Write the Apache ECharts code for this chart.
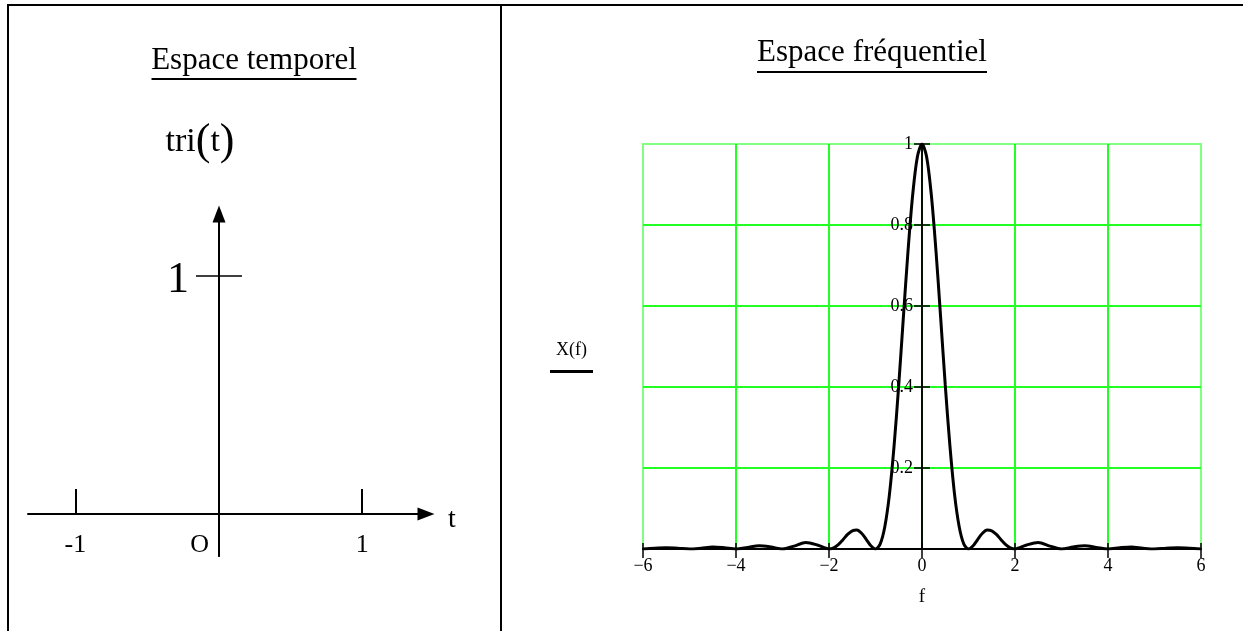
<!DOCTYPE html>
<html>
<head>
<meta charset="utf-8">
<script src="https://cdn.jsdelivr.net/npm/echarts@6/dist/echarts.min.js"></script>
<style>
  html, body { margin: 0; padding: 0; background: #fff; }
  #main { width: 1243px; height: 631px; }
</style>
</head>
<body>
<div id="main"></div>
<script>
// spectre X(f)
const freqs = [
  -6, -5.75, -5.5, -5.25, -5, -4.75, -4.5, -4.25, -4, -3.75, -3.5, -3.25, -3, -2.75, -2.5, -2.25,
  -2, -1.9, -1.8, -1.7, -1.6, -1.5, -1.4, -1.3, -1.2, -1.1, -1, -0.9, -0.8, -0.7, -0.6, -0.5, -0.4, -0.3, -0.2, -0.1,
  0, 0.1, 0.2, 0.3, 0.4, 0.5, 0.6, 0.7, 0.8, 0.9, 1, 1.1, 1.2, 1.3, 1.4, 1.5, 1.6, 1.7, 1.8, 1.9, 2,
  2.25, 2.5, 2.75, 3, 3.25, 3.5, 3.75, 4, 4.25, 4.5, 4.75, 5, 5.25, 5.5, 5.75, 6
];
const amps = [
  0, 0.002, 0.003, 0.002, 0, 0.002, 0.005, 0.003, 0, 0.004, 0.008, 0.005, 0, 0.007, 0.016, 0.010,
  0, 0.003, 0.011, 0.023, 0.036, 0.045, 0.047, 0.039, 0.024, 0.008, 0, 0.012, 0.055, 0.135, 0.255, 0.405, 0.573, 0.737, 0.875, 0.968,
  1, 0.968, 0.875, 0.737, 0.573, 0.405, 0.255, 0.135, 0.055, 0.012, 0, 0.008, 0.024, 0.039, 0.047, 0.045, 0.036, 0.023, 0.011, 0.003, 0,
  0.010, 0.016, 0.007, 0, 0.005, 0.008, 0.004, 0, 0.003, 0.005, 0.002, 0, 0.002, 0.003, 0.002, 0
];

// espace temporel : graduations
const timeTicks = [-1, 1];
const timeLabelValues = [-1, 0, 1];
const timeLabels = ['-1', 'O', '1'];
const triTicks = [1];

const serif = '"Liberation Serif", "Times New Roman", serif';
const green = '#22ff22';

const chart = echarts.init(document.getElementById('main'));

const freqData = freqs.map(function (f, i) { return [f, amps[i]]; });

function minusFmt(v) {
  return v < 0 ? '\u2212' + (-v) : String(v);
}

var option = {
  animation: false,
  backgroundColor: '#fff',
  title: [{
    text: '{t|Espace temporel}\n{u|}',
    left: 254,
    top: 44,
    textAlign: 'center',
    padding: 0,
    textStyle: {
      rich: {
        t: { fontSize: 31, fontFamily: serif, fontWeight: 'normal', color: '#000', lineHeight: 34 },
        u: { width: 205, height: 2, backgroundColor: '#000' }
      }
    }
  }, {
    text: '{t|Espace fréquentiel}\n{u|}',
    left: 872,
    top: 35,
    textAlign: 'center',
    padding: 0,
    textStyle: {
      rich: {
        t: { fontSize: 31, fontFamily: serif, fontWeight: 'normal', color: '#000', lineHeight: 36 },
        u: { width: 230, height: 2, backgroundColor: '#000' }
      }
    }
  }],
  grid: [{
    left: 28, right: 817, top: 214, bottom: 75,
    outerBoundsMode: 'none'
  }, {
    left: 643, right: 42, top: 144, bottom: 82,
    outerBoundsMode: 'none',
    show: true,
    borderColor: '#80ff80',
    borderWidth: 2
  }],
  xAxis: [{
    gridIndex: 0,
    type: 'value',
    min: -1.33,
    max: 1.445,
    position: 'bottom',
    offset: -42,
    axisLine: {
      onZero: false,
      lineStyle: { color: '#000', width: 2 },
      symbol: ['none', 'triangle'],
      symbolSize: [13, 17]
    },
    axisTick: {
      customValues: timeTicks,
      inside: true,
      length: 25,
      lineStyle: { color: '#000', width: 2 }
    },
    axisLabel: {
      customValues: timeLabelValues,
      margin: 18,
      color: '#000',
      fontSize: 26,
      fontFamily: serif,
      formatter: function (v) {
        const lab = timeLabels[timeLabelValues.indexOf(v)];
        return v === 0 ? '{o|' + lab + '}' : lab;
      },
      rich: {
        o: { fontSize: 26, fontFamily: serif, color: '#000', padding: [0, 38, 0, 0] }
      }
    },
    splitLine: { show: false },
    name: 't',
    nameLocation: 'end',
    nameGap: 22,
    nameTextStyle: { fontSize: 28, fontFamily: serif, color: '#000', verticalAlign: 'top', lineHeight: 12 }
  }, {
    gridIndex: 1,
    type: 'value',
    min: -6,
    max: 6,
    interval: 2,
    position: 'bottom',
    axisLine: { onZero: false, lineStyle: { color: '#000', width: 2 } },
    axisTick: { length: 9, lineStyle: { color: '#000', width: 1.5 } },
    axisLabel: {
      margin: 8,
      color: '#000',
      fontSize: 18,
      fontFamily: serif,
      formatter: minusFmt
    },
    splitLine: {
      show: true,
      showMinLine: false,
      showMaxLine: false,
      lineStyle: { color: green, width: 2 }
    },
    name: 'f',
    nameLocation: 'middle',
    nameGap: 39,
    nameTextStyle: { fontSize: 19, fontFamily: serif, color: '#000' }
  }, {
    gridIndex: 1,
    type: 'value',
    min: -6,
    max: 6,
    interval: 2,
    position: 'bottom',
    axisLine: { onZero: false, lineStyle: { color: '#000', width: 2 } },
    axisTick: { inside: true, length: 6, lineStyle: { color: '#000', width: 1.5 } },
    axisLabel: { show: false },
    splitLine: { show: false }
  }],
  yAxis: [{
    gridIndex: 0,
    type: 'value',
    min: -0.175,
    max: 1.257,
    position: 'left',
    offset: -191,
    axisLine: {
      onZero: false,
      lineStyle: { color: '#000', width: 2 },
      symbol: ['none', 'triangle'],
      symbolSize: [13, 17]
    },
    axisTick: {
      customValues: triTicks,
      inside: true,
      length: 23,
      lineStyle: { color: '#000', width: 1.5 }
    },
    axisLabel: {
      customValues: triTicks,
      margin: 30,
      color: '#000',
      fontSize: 44,
      fontFamily: serif,
      verticalAlign: 'top',
      lineHeight: 10
    },
    splitLine: { show: false },
    name: '{a|tri}{p|(}{a|t}{p|)}',
    nameLocation: 'end',
    nameGap: 50,
    nameTextStyle: {
      padding: [0, 38, 0, 0],
      rich: {
        a: { fontSize: 34, fontFamily: serif, color: '#000', verticalAlign: 'middle' },
        p: { fontSize: 44, fontFamily: serif, color: '#000', verticalAlign: 'middle' }
      }
    }
  }, {
    gridIndex: 0,
    type: 'value',
    min: -0.175,
    max: 1.257,
    position: 'left',
    offset: -191,
    axisLine: { onZero: false, lineStyle: { color: '#000', width: 2 } },
    axisTick: {
      customValues: triTicks,
      inside: false,
      length: 23,
      lineStyle: { color: '#000', width: 1.5 }
    },
    axisLabel: { show: false },
    splitLine: { show: false }
  }, {
    gridIndex: 1,
    type: 'value',
    min: 0,
    max: 1,
    interval: 0.2,
    position: 'left',
    offset: -279,
    axisLine: { onZero: false, lineStyle: { color: '#000', width: 1.5 } },
    axisTick: { length: 8, lineStyle: { color: '#000', width: 1.5 } },
    axisLabel: {
      showMinLabel: false,
      margin: 9,
      color: '#000',
      fontSize: 18,
      fontFamily: serif
    },
    splitLine: {
      show: true,
      showMinLine: false,
      showMaxLine: false,
      lineStyle: { color: green, width: 2 }
    },
    name: '{a|X(f)}\n{u|}',
    nameLocation: 'middle',
    nameRotate: 0,
    nameGap: 329,
    nameTextStyle: {
      padding: [10, 0, 0, 0],
      rich: {
        a: { fontSize: 18, fontFamily: serif, color: '#000', lineHeight: 40, align: 'center' },
        u: { width: 43, height: 3, backgroundColor: '#000', align: 'center' }
      }
    }
  }, {
    gridIndex: 1,
    type: 'value',
    min: 0,
    max: 1,
    interval: 0.2,
    position: 'left',
    offset: -279,
    axisLine: { onZero: false, lineStyle: { color: '#000', width: 1.5 } },
    axisTick: { inside: true, length: 8, lineStyle: { color: '#000', width: 1.5 } },
    axisLabel: { show: false },
    splitLine: { show: false }
  }],
  series: [{
    name: 'X(f)',
    type: 'line',
    xAxisIndex: 1,
    yAxisIndex: 2,
    data: freqData,
    smooth: 0.3,
    showSymbol: false,
    lineStyle: { color: '#000', width: 3 },
    z: 5
  }],
  graphic: [
    // cadre du tableau
    { type: 'line', shape: { x1: 7, y1: 5, x2: 1243, y2: 5 }, style: { stroke: '#000', lineWidth: 2 } },
    { type: 'line', shape: { x1: 8, y1: 4, x2: 8, y2: 631 }, style: { stroke: '#000', lineWidth: 2 } },
    { type: 'line', shape: { x1: 501, y1: 4, x2: 501, y2: 631 }, style: { stroke: '#000', lineWidth: 2 } }
  ]
};

chart.setOption(option);
</script>
</body>
</html>
